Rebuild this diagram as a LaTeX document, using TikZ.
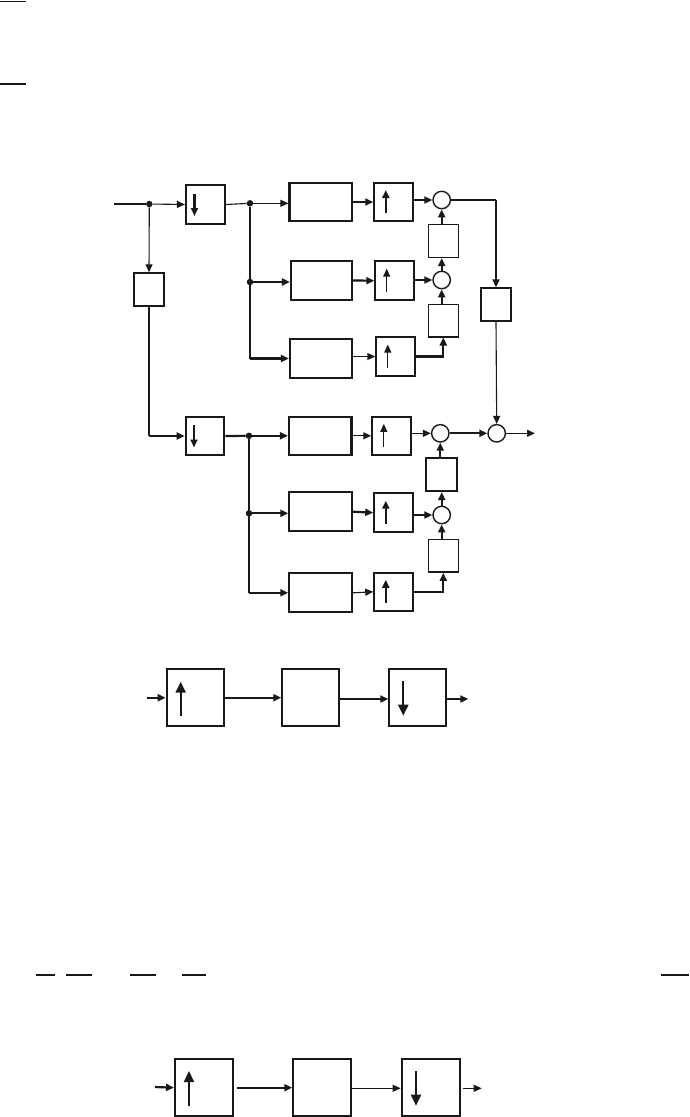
\documentclass[tikz,border=0pt]{standalone}
\usetikzlibrary{arrows.meta}
\begin{document}
\begin{tikzpicture}[x=1pt,y=-1pt,
  blk/.style={draw=black!90,line width=2.1pt,inner sep=0pt,fill=none},
  blkt/.style={draw=black!90,line width=1.6pt,inner sep=0pt},
  sumc/.style={circle,draw=black!90,line width=1.4pt,minimum size=17.4pt,inner sep=0pt},
  dotn/.style={circle,fill=black!90,minimum size=6.5pt,inner sep=0pt},
  thinl/.style={line width=1.1pt,draw=black!90},
  thickl/.style={line width=2.2pt,draw=black!90},
  tip/.style={-{Triangle[length=8pt,width=7pt]}},
  bigtip/.style={-{Triangle[length=11pt,width=10pt]}},
  bar/.style={line width=1.5pt,draw=black!90}]
\useasboundingbox (0,0) rectangle (689,1117);
% fraction bars
\coordinate (t1a) at (0,1.5); \coordinate (t1b) at (26,1.5);
\coordinate (t2a) at (0,84); \coordinate (t2b) at (26,84);
\draw[bar] (t1a) -- (t1b);
\draw[bar] (t2a) -- (t2b);
\foreach \a/\b in {36/55,66/92,130/156,182/206,661/689}{
  \draw[bar] (\a,975) -- (\b,975);}
% ---------------- upper bank ----------------
\node[blk,minimum width=39pt,minimum height=39pt] (d1) at (205.5,204.5) {};
\node[blk,minimum width=62.5pt,minimum height=38.5pt] (f1) at (320.7,202) {};
\node[blk,minimum width=61pt,minimum height=39pt] (f2) at (321.5,280.5) {};
\node[blk,minimum width=62pt,minimum height=39pt] (f3) at (321,358.5) {};
\node[blk,minimum width=39pt,minimum height=38.5pt] (u1) at (393.8,202) {};
\node[blk,minimum width=38.7pt,minimum height=38.7pt] (u2) at (394.7,280.7) {};
\node[blk,minimum width=39pt,minimum height=39pt] (u3) at (395.8,356.5) {};
\node[sumc] (c1) at (441.7,200) {};
\node[sumc] (c2) at (441.7,280) {};
\node[blkt,minimum width=30pt,minimum height=33pt] (e1) at (443.3,240.8) {};
\node[blkt,minimum width=30pt,minimum height=32.4pt] (e2) at (443.3,320.5) {};
\node[blk,minimum width=30.6pt,minimum height=32.7pt] (s) at (149,289.7) {};
\node[blk,minimum width=30.6pt,minimum height=32.7pt] (r) at (496,304.7) {};
% ---------------- lower bank ----------------
\node[blk,minimum width=38.6pt,minimum height=38.6pt] (d2) at (205,436) {};
\node[blk,minimum width=62.5pt,minimum height=38.3pt] (f4) at (320.2,435.8) {};
\node[blk,minimum width=62.7pt,minimum height=38.7pt] (f5) at (320.7,511.7) {};
\node[blk,minimum width=62.7pt,minimum height=39pt] (f6) at (320.7,592.8) {};
\node[blk,minimum width=39pt,minimum height=38.3pt] (u4) at (391.8,435.8) {};
\node[blk,minimum width=39pt,minimum height=38.7pt] (u5) at (393.8,512.7) {};
\node[blk,minimum width=39pt,minimum height=38.3pt] (u6) at (393.8,591.8) {};
\node[sumc] (c3) at (440.3,433.3) {};
\node[sumc] (c4) at (496.7,433.3) {};
\node[sumc] (c5) at (441.7,515) {};
\node[blk,minimum width=31pt,minimum height=32.7pt] (e3) at (441.8,474.7) {};
\node[blkt,minimum width=30pt,minimum height=32.7pt] (e4) at (443.3,555.7) {};
% dots and free ends
\coordinate (in) at (114,204);
\node[dotn] (p1) at (149.3,204) {};
\node[dotn] (p2) at (250,203.3) {};
\node[dotn] (p3) at (250,282) {};
\node[dotn] (p4) at (249,435.8) {};
\node[dotn] (p5) at (249,513.3) {};
\coordinate (out) at (535,433.3);
% inner arrows of rate changers
\foreach \n in {u1,u5,u6}{
  \draw[thickl,tip] ([shift={(-8,11)}]\n.center) -- ([shift={(-8,-12)}]\n.center);}
\foreach \n in {u2,u3,u4}{
  \draw[thinl,tip] ([shift={(-8,11)}]\n.center) -- ([shift={(-8,-12)}]\n.center);}
\foreach \n in {d1,d2}{
  \draw[thickl,tip] ([shift={(-11,-11)}]\n.center) -- ([shift={(-11,11.5)}]\n.center);}
% upper connectors
\draw[thinl] (in) -- (p1);
\draw[thinl,tip] (p1) -- (d1.west);
\draw[thinl,tip] (p1) -- (s.north);
\draw[thinl] (d1.east) -- (p2);
\draw[thinl,tip] (p2) -- (p2 -| f1.west);
\draw[thinl] (p2) -- (p2 |- f3.west);
\draw[thickl,tip] (p2 |- f3.west) -- (f3.west);
\draw[thickl,tip] (p3) -- (p3 -| f2.west);
\draw[thickl,tip] (f1.east) -- (u1.west);
\draw[thickl,tip] (u1.east |- c1) -- (c1.west);
\draw[thinl] (c1.east) -- (c1 -| r.north);
\draw[thickl,tip] (c1 -| r.north) -- (r.north);
\draw[thinl,tip] (r.south) -- (c4.north);
\draw[thickl,tip] (c1.south |- e1.north) -- (c1.south);
\draw[thickl,tip] (c2.north) -- (c2 |- e1.south);
\draw[thickl,tip] (c2.south |- e2.north) -- (c2.south);
\draw[thickl,tip] (f2.east) -- (u2.west);
\draw[thickl,tip] (u2.east |- c2) -- (c2.west);
\draw[thinl,tip] (u3.west -| f3.east) -- (u3.west);
\draw[thickl,tip] (u3.east) -| (e2.south);
% lower connectors
\draw[thinl] (s.south) -- (s.south |- d2.west);
\draw[thickl,tip] (s.south |- d2.west) -- (d2.west);
\draw[thickl] (d2.east) -- (p4);
\draw[thickl,tip] (p4) -- (f4.west);
\draw[thickl,tip] (p5) -- (p5 -| f5.west);
\draw[thickl] (p4) -- (p4 |- f6.west);
\draw[thickl,tip] (p4 |- f6.west) -- (f6.west);
\draw[thinl,tip] (f4.east) -- (u4.west);
\draw[thinl,tip] (u4.east |- c3) -- (c3.west);
\draw[thickl,tip] (c3.east) -- (c4.west);
\draw[thinl,tip] (c4.east) -- (out);
\draw[thickl,tip] (c3.south |- e3.north) -- (c3.south);
\draw[thickl,tip] (c5.north) -- (c5 |- e3.south);
\draw[thickl,tip] (c5.south |- e4.north) -- (c5.south);
\draw[thickl,tip] (f5.east) -- (u5.west);
\draw[thickl,tip] (u5.east |- c5) -- (c5.west);
\draw[thinl,tip] (f6.east) -- (u6.west);
\draw[thickl,tip] (u6.east) -| (e4.south);
% ---------------- bottom chain 1 ----------------
\node[blk,minimum width=57.6pt,minimum height=56.7pt] (a1) at (195.5,697.7) {};
\node[blk,minimum width=57pt,minimum height=56.7pt] (b1) at (310.8,697.7) {};
\node[blk,minimum width=56.7pt,minimum height=56.7pt] (g1) at (417.7,697.7) {};
\coordinate (i1) at (146.7,697.7);
\coordinate (o1) at (468.3,699);
\draw[thickl,bigtip] ([shift={(-14.8,18)}]a1.center) -- ([shift={(-14.8,-16)}]a1.center);
\draw[thickl,bigtip] ([shift={(-14.4,-16.7)}]g1.center) -- ([shift={(-14.4,18)}]g1.center);
\draw[thickl,tip] (i1) -- (a1.west);
\draw[thickl,tip] (a1.east) -- (b1.west);
\draw[thickl,tip] ([yshift=-1.3pt]b1.east) -- ([yshift=-1.3pt]g1.west);
\draw[thickl,tip] (g1.east |- o1) -- (o1);
% ---------------- bottom chain 2 ----------------
\node[blk,minimum width=58.3pt,minimum height=56.7pt] (a2) at (204.2,1087.7) {};
\node[blk,minimum width=58pt,minimum height=56.7pt] (b2) at (322.3,1087.7) {};
\node[blk,minimum width=58.3pt,minimum height=56.7pt] (g2) at (430.8,1087.7) {};
\coordinate (i2) at (155,1087);
\coordinate (o2) at (481.7,1088.3);
\draw[thickl,bigtip] ([shift={(-15.2,18)}]a2.center) -- ([shift={(-15.2,-16.7)}]a2.center);
\draw[thickl,bigtip] ([shift={(-14.8,-16.7)}]g2.center) -- ([shift={(-14.8,18)}]g2.center);
\draw[thickl,tip] (i2) -- (a2.west);
\draw[thickl,tip] ([xshift=3pt]a2.east) -- (b2.west);
\draw[thinl,tip] (b2.east |- o2) -- (g2.west |- o2);
\draw[thinl,tip] ([xshift=2pt]g2.east |- o2) -- (o2);
\end{tikzpicture}
\end{document}
